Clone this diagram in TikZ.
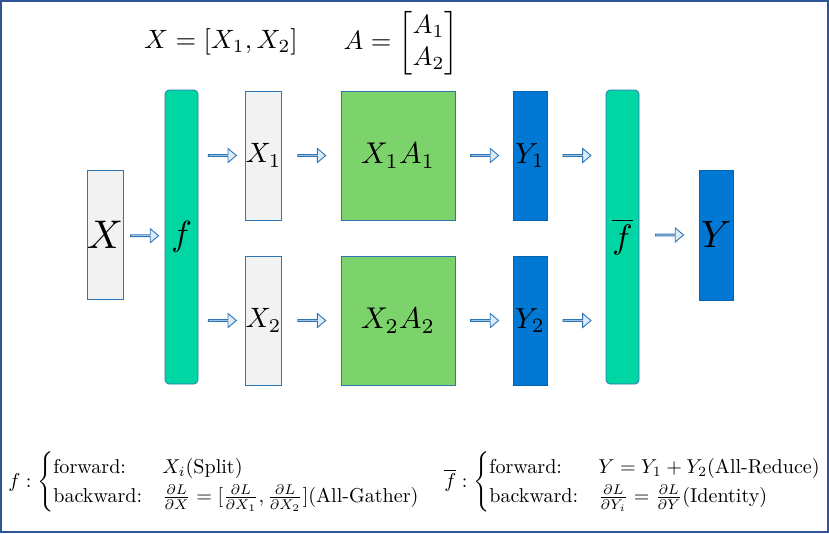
\documentclass[tikz,border=0pt]{standalone}
\usepackage{amsmath,amssymb,mathtools}
\usepackage{xcolor}
\usepackage{tikz}
\usetikzlibrary{shapes.arrows}

\definecolor{framec}{RGB}{47,85,151}
\definecolor{edgec}{RGB}{46,117,182}
\definecolor{greyc}{RGB}{242,242,242}
\definecolor{tealc}{RGB}{0,214,163}
\definecolor{greenc}{RGB}{125,211,107}
\definecolor{bluec}{RGB}{0,120,212}
\definecolor{arrfill}{RGB}{222,235,247}

\begin{document}
\begin{tikzpicture}[x=1pt,y=-1pt,
  inbox/.style={draw=edgec,line width=0.7pt,fill=greyc,minimum width=33pt,minimum height=129pt,inner sep=0pt},
  opbox/.style={draw=edgec,line width=0.7pt,fill=tealc,rounded corners=4pt,minimum width=33pt,minimum height=294pt,inner sep=0pt},
  mulbox/.style={draw=edgec,line width=0.7pt,fill=greenc,minimum width=114pt,minimum height=129pt,inner sep=0pt},
  outbox/.style={draw=bluec!85!black,line width=0.5pt,fill=bluec,minimum width=34pt,minimum height=129pt,inner sep=0pt},
  sarrow/.style={single arrow,draw=edgec,fill=arrfill,line width=0.9pt,minimum height=28pt,
    minimum width=14pt,single arrow head extend=3pt,single arrow tip angle=80,inner sep=0pt},
  blk/.style={to path={-- (\tikztotarget) node[midway,sarrow] {}}}]
  \useasboundingbox (0,0) rectangle (829,533);
  \draw[framec,line width=2pt] (1,1) rectangle (828,532);

  % top formulas
  \node[scale=2.65,inner sep=0pt] (xdef) at (221,42) {$X=[X_1,X_2]$};
  \node[scale=2.65,inner sep=0pt] (adef) at (401,43) {$A=\begin{bmatrix}A_1\\A_2\end{bmatrix}$};

  % boxes
  \node[inbox,minimum width=34pt] (X) at (105,234.5) {\scalebox{4}{$X$}};
  \node[opbox] (f) at (181.5,237) {\scalebox{3.5}{$f$}};
  \node[inbox] (X1) at (263.5,155.5) {\scalebox{2.8}{$X_1$}};
  \node[inbox] (X2) at (263.5,320.5) {\scalebox{2.8}{$X_2$}};
  \node[mulbox] (XA1) at (398,155.5) {\scalebox{3}{$X_1A_1$}};
  \node[mulbox] (XA2) at (398,320.5) {\scalebox{3}{$X_2A_2$}};
  \node[outbox] (Y1) at (530,155.5) {\scalebox{2.9}{$Y_1$}};
  \node[outbox] (Y2) at (530,320.5) {\scalebox{2.9}{$Y_2$}};
  \node[opbox] (fb) at (622.5,237) {\scalebox{3.4}{$\overline{f}$}};
  \node[outbox,minimum height=130pt] (Y) at (716,235) {\scalebox{3.8}{$Y$}};

  % block arrows
  \path (X.east) to[blk] (f.west);
  \path (f.east |- X1) to[blk] (X1.west);
  \path (f.east |- X2) to[blk] (X2.west);
  \path (X1.east) to[blk] (XA1.west);
  \path (X2.east) to[blk] (XA2.west);
  \path (XA1.east) to[blk] (Y1.west);
  \path (XA2.east) to[blk] (Y2.west);
  \path (Y1.east) to[blk] (fb.west |- Y1);
  \path (Y2.east) to[blk] (fb.west |- Y2);
  \path (fb.east |- Y) to[blk] (Y.west);

  % bottom definitions
  \node[anchor=west,scale=2.01,inner sep=0pt] (fdef) at (8,482)
    {$f:\begin{cases}\text{forward:} & X_i(\text{Split})\\
      \text{backward:} & \frac{\partial L}{\partial X}=[\frac{\partial L}{\partial X_1},\frac{\partial L}{\partial X_2}](\text{All-Gather})\end{cases}$};
  \node[anchor=west,scale=2.01,inner sep=0pt] (fbdef) at (444,482)
    {$\overline{f}:\begin{cases}\text{forward:} & Y=Y_1+Y_2(\text{All-Reduce})\\
      \text{backward:} & \frac{\partial L}{\partial Y_i}=\frac{\partial L}{\partial Y}(\text{Identity})\end{cases}$};
\end{tikzpicture}
\end{document}
